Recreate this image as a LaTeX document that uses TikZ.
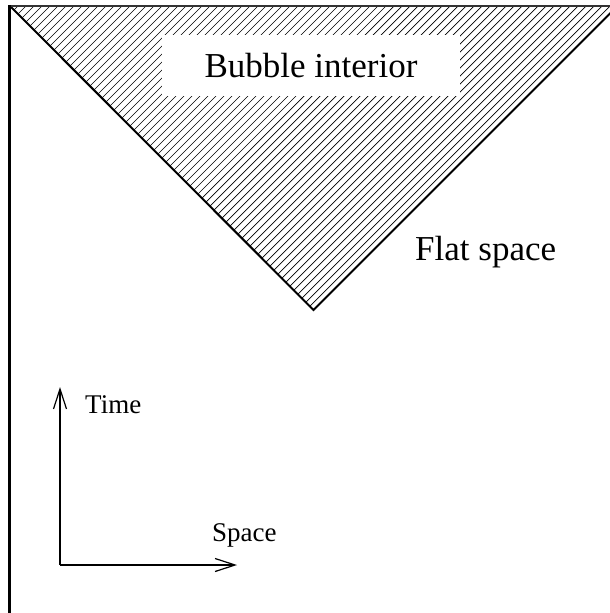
\documentclass[tikz,border=0pt]{standalone}
\usepackage{fontspec}
\setmainfont{Liberation Serif}
\usetikzlibrary{arrows.meta}
\begin{document}
\begin{tikzpicture}[x=1pt, y=-1pt,
    hatch/.style={line width=0.7pt},
    edge/.style={line width=2pt, line join=miter},
    axis/.style={line width=1.4pt, -{Straight Barb[length=20pt, width=13pt, line width=1.2pt]}},
    biglabel/.style={font=\fontsize{35}{42}\selectfont, inner sep=0pt},
    smalllabel/.style={font=\fontsize{27}{32}\selectfont, inner sep=0pt}]
        \useasboundingbox (0,0) rectangle (610,613);
        \clip (0,0) rectangle (610,613);
        \coordinate (tl) at (10,6);
        \coordinate (tip) at (313.5,310);
        \coordinate (tr) at (617.5,6);

        % hatched bubble
        \begin{scope}
            \clip (tl) -- (tip) -- (tr) -- cycle;
            \foreach \a in {-320,-312,...,640} {
                \draw[hatch] (\a,320) -- ++(320,-320);
            }
        \end{scope}
        \draw[edge] (tl) -- (tip) -- (tr);
        \draw[line width=2pt, black!80] (9,6) -- (610,6);
        \draw[line width=3pt] (9,5) -- (9,613);

        \node[biglabel, fill=white, minimum width=298pt, minimum height=61pt] (interior) at (311,65.5) {Bubble interior};
        \node[biglabel, anchor=base west] (flat) at (415,260) {Flat space};

        % axes
        \coordinate (origin) at (60,565);
        \coordinate (timetip) at (60,387);
        \coordinate (spacetip) at (237,565);
        \draw[axis] (origin) -- (timetip);
        \draw[axis] (origin) -- (spacetip);
        \node[smalllabel, anchor=base west] (time) at (85,413) {Time};
        \node[smalllabel, anchor=base west] (space) at (212,541) {Space};
\end{tikzpicture}
\end{document}
